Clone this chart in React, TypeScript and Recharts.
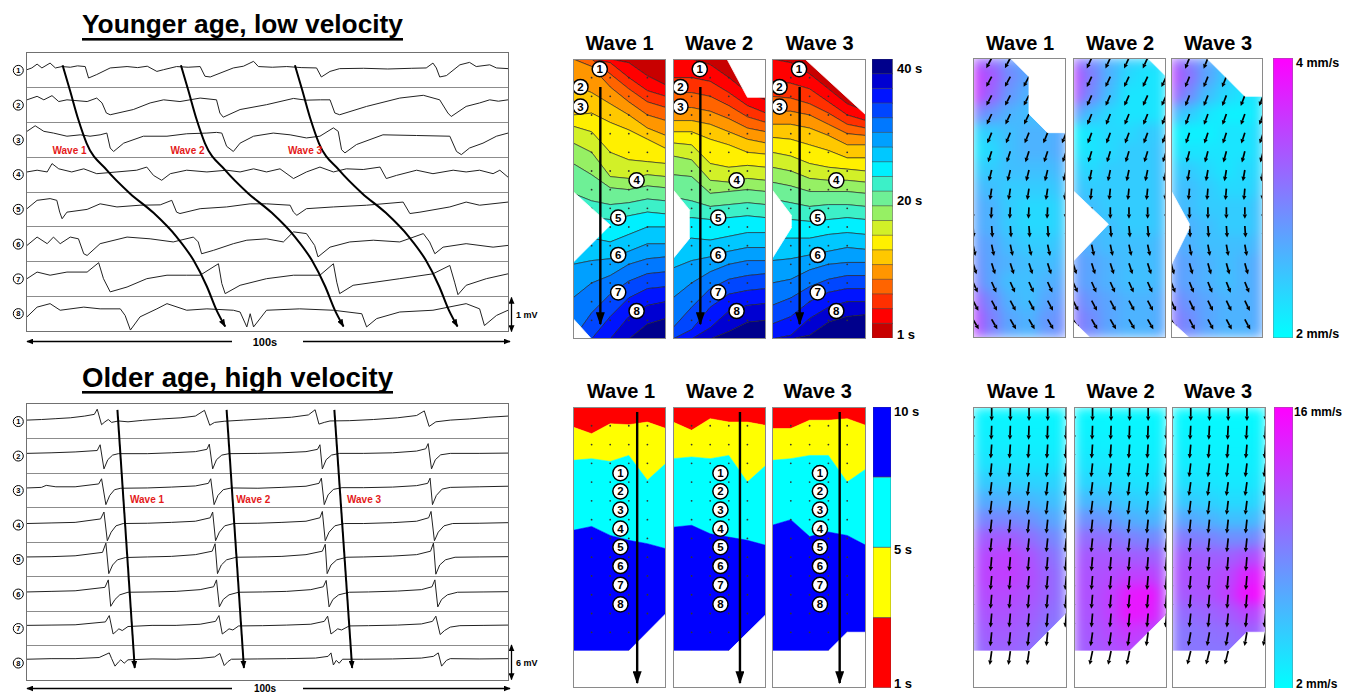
import React from "react";
import {
  LineChart, Line, XAxis, YAxis, AreaChart, Area, ScatterChart, Scatter,
  ComposedChart, BarChart, Bar, Cell,
} from "recharts";

const FONT = "'Liberation Sans', Arial, Helvetica, sans-serif";
const ZERO = { top: 0, right: 0, bottom: 0, left: 0 };
const DEPTH = 15;

// ---------- electrode traces: [time s, mV offset from row centre] ----------
const Y_TR1 = [[0,0.02],[1,0.07],[2.1,0.18],[3.1,0.07],[4.8,0.21],[5.9,0.07],[7.3,0.11],[9,0.09],[10.5,0.13],[12.1,0.11],[12.8,-0.22],[14.5,-0.12],[17.3,0.07],[20.8,0.11],[23,0.08],[25,0.12],[27,-0.03],[28.4,0.02],[31.1,0.11],[33.5,0.09],[36,0.11],[37,-0.17],[38.1,-0.19],[42.9,0.07],[45,0.12],[47.1,0.26],[48.1,0.11],[51,0.09],[54,0.11],[57,0.08],[60.2,0.07],[61.2,-0.19],[63,-0.03],[65,0.05],[70,0.06],[75,0.04],[80,0.06],[83,0.07],[84.4,0.21],[85.1,0.07],[85.8,-0.19],[87.2,-0.15],[90,0.16],[92,0.23],[93.4,0.11],[96.2,0.16],[97.6,0.07],[100,0.05]];
const Y_TR2 = [[0,0.16],[2.1,0.26],[3.5,0.16],[5.2,0.28],[6.6,0.11],[8.3,0.16],[12.5,0.11],[14.5,0.21],[15.6,0.07],[16.5,-0.22],[17.3,-0.27],[22.1,-0.12],[25.6,0.07],[28.4,0.16],[31.8,0.11],[36,0.21],[39.4,0.16],[40.1,-0.22],[40.8,-0.34],[44.3,-0.12],[49.8,0.02],[55.4,0.2],[58,0.15],[61,0.16],[63,0.16],[64,-0.22],[65,-0.27],[70.6,-0.03],[77.5,0.21],[82.4,0.29],[85.8,0.16],[87.5,-0.22],[88.2,-0.32],[91.3,-0.03],[94.1,0.07],[96.2,0.16],[98,0.12],[100,0.16]];
const Y_TR3 = [[0,0.26],[1.7,0.42],[3.5,0.26],[5.5,0.21],[8.3,0.12],[11.1,0.16],[13.1,0.12],[15.2,0.16],[16.6,0.21],[17.3,-0.22],[18,-0.32],[20.1,-0.08],[24.2,0.12],[29.1,0.12],[33.2,0.19],[37.4,0.21],[39.4,0.23],[40.5,0.21],[41.5,-0.17],[42.9,-0.32],[44.3,-0.08],[47.1,0.12],[51.2,0.21],[54.7,0.16],[58.1,0.07],[60.9,0.12],[63.7,0.36],[64.7,0.26],[65.4,-0.27],[66.1,-0.36],[68.5,-0.12],[74,0.16],[81,0.14],[87.9,0.12],[89.3,-0.32],[90.3,-0.41],[92,-0.22],[94.8,-0.08],[97.6,0.12],[100,0.21]];
const Y_TR4 = [[0,0.07],[2.1,0.12],[4.2,0.07],[5.2,0.31],[6.6,0.16],[9.3,0.07],[11.8,0.16],[14.5,0.02],[18.7,0.07],[22.8,0.12],[24.9,0.21],[26.3,-0.03],[28,-0.17],[29.8,0.02],[33.2,0.12],[37.4,0.07],[41.5,0.12],[44.3,0.07],[47.1,0.16],[49.8,0.07],[52.6,0.16],[55.4,-0.12],[58.1,0.07],[60.9,0.21],[63.7,0.07],[66.4,0.16],[69.9,0.14],[73.4,0.21],[74.7,-0.12],[76.8,-0.03],[81,0.12],[84.4,0.02],[88.6,0.12],[91.3,0.07],[94.1,0.12],[96.9,0.02],[98.3,0.12],[100,-0.08]];
const Y_TR5 = [[0,0.02],[2.1,0.26],[4.8,0.31],[6.2,0.26],[6.8,-0.08],[7.3,-0.27],[8.3,-0.08],[12.5,0],[15.2,0.16],[18.7,0.07],[23.5,0.12],[27.7,0.13],[30.1,0.26],[31.1,-0.08],[31.8,-0.12],[36,0.02],[41.5,0.07],[46.4,0.16],[49.8,0.16],[54.7,0.12],[55.4,-0.08],[56.1,-0.17],[58.1,0.02],[63.7,0.07],[70.6,0.12],[78.2,0.21],[79.6,-0.12],[81.7,-0.08],[87.9,0.07],[91.3,0.21],[94.1,0.12],[100,0.21]];
const Y_TR6 = [[0,-0.03],[2.1,0.21],[4.2,0.02],[5.5,0.21],[6.9,0.02],[9,0.21],[10.7,0.16],[11.8,-0.27],[12.5,-0.32],[15.2,0.02],[20.8,0.21],[25.6,0.16],[30.4,0.07],[34.6,0.21],[35.6,0.07],[36.3,-0.27],[38.8,-0.17],[42.9,0.02],[45.7,0.12],[49.8,0.16],[53.3,0.07],[55.4,0.36],[58.1,0.31],[59.8,-0.03],[60.5,-0.36],[63,-0.08],[67.1,0.07],[72,0.12],[77.5,0.07],[82.4,0.31],[83.7,0.07],[84.8,-0.27],[86.5,-0.08],[91.3,0.02],[96.9,-0.08],[100,-0.03]];
const Y_TR7 = [[0,0.02],[2.1,0.21],[4.8,0.12],[8.3,0.21],[12.5,0.21],[14.9,0.48],[15.9,0.02],[17.3,-0.36],[20.8,-0.22],[24.9,0.02],[29.1,0.12],[33.2,0.12],[36,0.12],[39.8,0.45],[40.5,-0.12],[41.2,-0.41],[44.3,-0.17],[49.8,0.02],[55.4,0.12],[60.9,0.12],[63.7,0.45],[64.4,-0.08],[65,-0.41],[67.8,-0.17],[77.5,0.02],[84.4,0.16],[87.9,0.4],[88.9,-0.08],[89.6,-0.44],[91.3,-0.17],[95.5,0.02],[100,0.16]];
const Y_TR8 = [[0,-0.1],[2.1,0.18],[4.8,0.28],[6.9,0.09],[11.8,0.18],[15.2,0.13],[19.4,0.13],[20.4,-0.06],[21.5,-0.48],[23.5,-0.1],[27,0.13],[29.1,0.28],[33.2,0.09],[37.4,0.13],[42.9,0.09],[44.3,0.04],[45.7,-0.39],[46.4,-0.01],[47.1,-0.39],[49.8,0.09],[56.7,0.13],[63.7,0.09],[69.6,-0.01],[70.6,-0.39],[72.7,-0.15],[77.5,0.04],[84.4,0.09],[91.3,0.28],[94.1,0.13],[95.1,-0.35],[97.6,-0.06],[100,0.09]];
const YOUNG_TRACES = [Y_TR1, Y_TR2, Y_TR3, Y_TR4, Y_TR5, Y_TR6, Y_TR7, Y_TR8];

const O_TR1 = [[0,0.2],[3,0.3],[6,0.45],[9,0.6],[12,0.9],[14,1.2],[14.6,2.1],[15.5,-0.6],[16.2,-0.1],[16.9,0.3],[17.6,-0.2],[19,0.05],[21,-0.1],[24,0.15],[28,0.4],[32,0.6],[35,0.9],[36.9,1.9],[38,-0.7],[39,-0.2],[41,0],[45,0.2],[50,0.45],[55,0.7],[58.5,1.1],[59.9,2],[60.7,-0.5],[61.8,-0.2],[63,0.05],[67,0.1],[72,0.3],[77,0.6],[81,1],[82.6,1.8],[83.6,-0.9],[85,-0.1],[88,0.2],[92,0.4],[96,0.7],[100,0.9]];
const O_TR2 = [[0,0.5],[5,0.6],[10,0.75],[14.6,1],[15.2,2],[16,-2.2],[16.8,-0.6],[17.8,0.2],[19,0.45],[25,0.45],[30,0.6],[35,0.8],[37.4,1.2],[37.9,2.1],[38.6,-2.2],[39.4,-0.6],[40.5,0.2],[42,0.45],[48,0.5],[53,0.6],[58,0.8],[60.4,1.2],[60.9,2],[61.4,-2.2],[62.2,-0.6],[63.3,0.2],[65,0.5],[70,0.5],[76,0.6],[81,0.9],[82.9,1.3],[83.4,2.2],[84.1,-2.2],[84.9,-0.6],[86,0.25],[88,0.5],[94,0.5],[100,0.55]];
const O_TR3 = [[0,0.4],[3,0.5],[4,0.85],[6,0.6],[10,0.6],[14.9,1.1],[15.5,2],[16.4,-2.5],[17.2,-0.9],[18.2,0.1],[19.5,0.35],[25,0.4],[30,0.55],[35,0.75],[37.7,1.2],[38.2,2],[38.9,-2.5],[39.7,-0.9],[40.8,0.1],[42.5,0.4],[48,0.35],[53,0.5],[58,0.7],[60.7,1.2],[61.2,2.1],[61.8,-2.5],[62.6,-0.8],[63.7,0.15],[65.5,0.45],[70,0.45],[76,0.55],[81,0.8],[83.3,1.2],[83.8,2.1],[84.3,-2.5],[85.1,-0.9],[86.3,0.2],[88,0.5],[94,0.6],[100,0.7]];
const O_TR4 = [[0,0.3],[5,0.4],[10,0.5],[15.3,1.1],[16,2.3],[16.7,-2.7],[17.5,-1.2],[18.5,-0.1],[20,0.3],[25,0.35],[30,0.5],[35,0.7],[38.1,1.3],[38.6,2.3],[39.2,-2.7],[40,-1.2],[41.1,-0.1],[43,0.3],[48,0.35],[53,0.5],[58,0.7],[60.9,1.3],[61.4,2.4],[62,-2.7],[62.8,-1.2],[64,-0.1],[66,0.3],[70,0.3],[76,0.45],[81,0.7],[83.5,1.3],[84,2.4],[84.7,-2.7],[85.5,-1.2],[86.7,-0.1],[88.5,0.3],[94,0.35],[100,0.45]];
const O_TR5 = [[0,0.4],[5,0.45],[10,0.6],[15.7,1.2],[16.4,2.8],[17,-2.5],[17.8,-1],[18.8,-0.1],[20.5,0.3],[25,0.4],[30,0.5],[35,0.8],[38.5,1.4],[39.1,2.7],[39.6,-2.5],[40.4,-1],[41.5,-0.1],[43.5,0.35],[48,0.4],[53,0.5],[58,0.8],[61.4,1.4],[62,2.6],[62.4,-2.5],[63.2,-1],[64.4,-0.1],[66.5,0.35],[70,0.4],[76,0.55],[81,0.8],[83.9,1.4],[84.5,2.8],[85,-2.6],[85.8,-1],[87,-0.1],[89,0.35],[94,0.4],[100,0.45]];
const O_TR6 = [[0,0.4],[5,0.5],[10,0.6],[16.2,1.2],[16.9,2.5],[17.4,-2.1],[18.3,-0.9],[19.3,-0.1],[21,0.35],[26,0.4],[31,0.5],[36,0.8],[38.8,1.3],[39.4,2.5],[40,-2.2],[40.8,-0.9],[42,-0.1],[44,0.35],[49,0.4],[54,0.5],[59,0.8],[61.6,1.3],[62.2,2.4],[62.8,-2.2],[63.6,-0.9],[64.8,-0.1],[67,0.35],[71,0.4],[77,0.55],[82,0.8],[84.2,1.3],[84.8,2.5],[85.4,-2.2],[86.2,-0.9],[87.4,-0.1],[89.5,0.35],[95,0.4],[100,0.45]];
const O_TR7 = [[0,0.5],[5,0.55],[10,0.6],[16.3,1.1],[17.1,2.2],[17.9,-1],[18.6,-0.5],[19.1,-0.1],[19.8,-0.4],[21,0.3],[26,0.5],[31,0.5],[36,0.7],[39.2,1.2],[39.9,2.2],[40.6,-1],[41.4,-0.5],[42,-0.1],[42.8,-0.3],[44,0.4],[49,0.45],[54,0.55],[59,0.7],[61.8,1.2],[62.5,2.1],[63.2,-1],[64,-0.5],[64.6,-0.1],[65.4,-0.3],[67,0.4],[71,0.45],[77,0.55],[82,0.75],[84.3,1.2],[85,2.1],[85.9,-1.1],[86.8,-0.4],[88,0.2],[90,0.45],[95,0.5],[100,0.55]];
const O_TR8 = [[0,0.7],[5,0.8],[10,0.8],[15,1],[17.1,1.8],[17.6,0.8],[18.3,-0.5],[19,0.2],[19.5,0.6],[20.2,0],[21,0.6],[26,0.75],[31,0.7],[36,0.85],[39,1.1],[40.1,1.7],[41,-0.4],[41.8,0.3],[42.5,0.7],[48,0.75],[54,0.8],[60,0.9],[62.6,1.2],[63.2,1.8],[63.7,-0.3],[64.3,0.5],[64.9,0],[65.6,0.7],[70,0.7],[76,0.75],[82,0.9],[84.5,1.2],[85.5,1.8],[86.2,-0.5],[87.2,0.5],[88,0.8],[94,0.75],[100,0.8]];
const OLD_TRACES = [O_TR1, O_TR2, O_TR3, O_TR4, O_TR5, O_TR6, O_TR7, O_TR8];

// wave propagation arrows: [time s, row position]
const Y_WAVE1 = [[7.4,0.35],[8.9,1.06],[10.7,1.93],[12.4,2.6],[16.6,3.37],[21.4,4.04],[26.3,4.6],[31.1,5.29],[34.6,5.96],[37.4,6.72],[39.4,7.4],[41.2,7.87]];
const Y_WAVE2 = [[32,0.35],[33.5,1.06],[35.3,1.93],[37,2.6],[41.2,3.37],[46,4.04],[50.9,4.6],[55.7,5.29],[59.2,5.96],[62,6.72],[64,7.4],[65.8,7.87]];
const Y_WAVE3 = [[55.7,0.35],[57.2,1.06],[59,1.93],[60.7,2.6],[64.9,3.37],[69.7,4.04],[74.6,4.6],[79.4,5.29],[82.9,5.96],[85.7,6.72],[87.7,7.4],[89.5,7.87]];
const O_WAVE1 = [[18.8,0.17],[22.4,7.65]];
const O_WAVE2 = [[41.5,0.17],[45.1,7.65]];
const O_WAVE3 = [[63.9,0.17],[67.6,7.65]];

// ---------- maps: node grid ----------
const GRID_X = [0, 1, 2, 3, 4, 5];
const GRID_Y = [0, 1, 2, 3, 4, 5, 6, 7, 8, 9, 10, 11, 12, 13, 14, 15];

// activation time contour boundaries (depth in node rows, per column)
const YA1_BOUNDS = [
  [0,0,0,0.2,0.9,1.4],[0,0,0.2,1,1.7,2],[0,0,0.8,1.6,2.3,2.6],[0,0.4,1.5,2.3,3,3.3],
  [1.4,1.8,2.4,3,3.7,4.1],[3,2.9,3.4,3.8,4.3,4.8],[3.6,3.9,5,5.4,5.5,5.6],[4.5,5,6.3,6.4,6.2,6.3],
  [5.6,6.2,6.9,7,6.8,6.9],[7.2,7.6,7.8,7.7,7.5,7.6],[8.4,8.5,8.6,8.4,8.2,8.3],[9.6,9.6,9.8,9.4,9,9],
  [11,10.8,10.7,10.3,9.9,9.9],[12.8,12,11.6,11,10.7,10.6],[15,13.6,12.6,11.9,11.5,11.4],[15,15,13.8,12.8,12.3,12.2],
  [15,15,15,13.8,13.2,13],[15,15,15,15,14.2,13.9],
];
const YA2_BOUNDS = [
  [0,0,0.3,1,1.8,2.2],[1,1,1.2,1.8,2.5,2.9],[1.8,1.8,2,2.5,3.1,3.4],[2.6,2.6,2.8,3.2,3.7,3.9],
  [3.3,3.3,3.5,3.9,4.3,4.5],[3.9,3.9,4.3,4.6,5,5.1],[4.5,4.6,5.6,5.8,5.7,5.8],[5.2,5.4,6.5,6.6,6.4,6.5],
  [6.2,6.3,7.2,7.1,7,7.1],[7.4,7.6,7.9,7.8,7.7,7.8],[8.6,8.5,8.6,8.5,8.4,8.5],[9.8,9.6,9.7,9.5,9.3,9.3],
  [11.2,10.8,10.6,10.3,10.1,10.1],[12.8,12,11.4,11,10.8,10.8],[14.4,13.3,12.3,11.8,11.6,11.5],[15,14.5,13.3,12.6,12.4,12.3],
  [15,15,14.4,13.5,13.2,13.1],[15,15,15,14.6,14.1,14],
];
const YA3_BOUNDS = [
  [0,0.2,0.8,1.6,2.4,2.8],[1.2,1.3,1.6,2.3,3,3.3],[2,2.1,2.4,2.9,3.5,3.7],[2.8,2.8,3,3.5,4,4.1],
  [3.5,3.5,3.7,4.1,4.6,4.6],[4.2,4.3,4.6,4.9,5.3,5.3],[5,5.2,5.6,5.8,5.9,6],[5.8,6,6.4,6.5,6.5,6.6],
  [6.6,6.8,7.1,7.1,7.1,7.2],[7.5,7.7,7.9,7.8,7.8,7.9],[8.5,8.6,8.7,8.6,8.5,8.6],[9.6,9.6,9.6,9.4,9.3,9.4],
  [10.8,10.7,10.5,10.3,10.1,10.2],[12,11.8,11.3,11,10.9,10.9],[13.2,12.8,12.2,11.8,11.6,11.6],[14.2,13.8,13,12.5,12.3,12.3],
  [15,14.8,13.9,13.3,13,13],[15,15,14.8,14.1,13.8,13.7],
];
const OA1_BOUNDS = [[1.07,1.42,0.89,0.94,0.8,1.15],[2.84,2.75,2.9,2.58,3.9,3],[6.57,6.36,6.84,7.1,7.28,7.55]];
const OA2_BOUNDS = [[0.8,1.24,0.62,0.8,0.8,0.98],[2.75,2.66,2.75,2.58,4,3.1],[6.4,6.3,6.75,6.93,7.1,7.37]];
const OA3_BOUNDS = [[1.15,1.15,0.7,0.7,0.62,0.98],[2.84,2.75,2.58,2.58,4,3.3],[6.3,6,6.9,6.66,6.84,7.37]];

// white (no data) regions: [x, depth from, depth to]
const YA1_MASKS = [[[0,7.1,10.9],[2,8.9,8.9]], [[0,13.9,15],[1,15,15]]];
const YA2_MASKS = [[[2.9,0,0],[4,0,2.05],[5,0,2.05]], [[0,7,10.7],[0.9,8.1,9.6]]];
const YA3_MASKS = [[[1.75,0,0],[5,0,3]], [[0,7,10.7],[1.05,8.4,9]]];
const O1_MASKS = [[[0,13,15],[3,13,15],[5,11,15]]];
const O2_MASKS = [[[0,13,15],[3,13,15],[5,11.05,15]]];
const O3_MASKS = [[[0,13,15],[3,13,15],[4,12,15],[5,12,15]]];
const YV1_MASKS = [[[2,0,0],[3,0,1],[3,0,3],[4,0,4],[5,0,4]]];
const YV2_MASKS = [[[4,0,0],[5,0,1]], [[0,7.1,10.9],[1.9,8.9,8.9]], [[0,14.1,15],[0.93,15,15]]];
const YV3_MASKS = [[[1.93,0,0],[4,0,2.05],[5,0,2.05]], [[0,7.1,11.1],[1,8.9,9.1]], [[0,14.1,15],[1,15,15]]];

// electrodes [x, depth, number] and propagation arrows
const YOUNG_ELECS = [[1.44,0.54,1],[0.4,1.5,2],[0.4,2.55,3],[3.42,6.5,4],[2.43,8.5,5],[2.43,10.5,6],[2.43,12.5,7],[3.42,13.5,8]];
const OLD_ELECS = [[2.55,3.52,1],[2.55,4.49,2],[2.55,5.47,3],[2.55,6.48,4],[2.55,7.46,5],[2.55,8.47,6],[2.55,9.47,7],[2.55,10.51,8]];
const YA_ARROW = [[1.47,1.5],[1.47,14.2]];
const OA1_ARROW = [[3.45,0.27],[3.45,14.7]];
const OA23_ARROW = [[3.6,0.27],[3.6,14.7]];

// conduction velocity (mm/s) per node, rows x columns
const YV1_SPEED = [
  [3.3,3.1,2.8,2.6,2.6,2.6],[3.6,3.3,2.9,2.7,2.6,2.6],[3.6,3.2,2.8,2.6,2.6,2.6],[3,2.8,2.6,2.5,2.5,2.5],
  [2.3,2.4,2.5,2.6,2.6,2.7],[2.2,2.3,2.5,2.6,2.6,2.7],[2.4,2.4,2.5,2.5,2.5,2.6],[2.6,2.5,2.4,2.4,2.4,2.5],
  [2.7,2.6,2.4,2.3,2.3,2.4],[2.7,2.6,2.4,2.3,2.3,2.4],[2.8,2.7,2.5,2.4,2.4,2.5],[2.9,2.7,2.6,2.5,2.5,2.6],
  [3,2.7,2.5,2.5,2.6,2.7],[3.3,2.9,2.6,2.5,2.7,2.8],[3.5,3,2.7,2.6,2.8,2.9],[3.5,3,2.7,2.6,2.8,2.9],
];
const YV2_SPEED = [
  [3.2,2.9,2.6,2.4,2.3,2.3],[3.5,3,2.6,2.3,2.2,2.2],[3.4,2.9,2.5,2.2,2.2,2.2],[2.8,2.5,2.3,2.2,2.2,2.2],
  [2.1,2.2,2.3,2.3,2.4,2.4],[2.2,2.2,2.3,2.4,2.4,2.5],[2.4,2.3,2.4,2.4,2.4,2.5],[2.5,2.4,2.4,2.4,2.4,2.5],
  [2.6,2.5,2.4,2.4,2.4,2.5],[2.6,2.5,2.5,2.4,2.4,2.5],[2.7,2.6,2.5,2.5,2.5,2.6],[2.8,2.7,2.6,2.5,2.5,2.6],
  [2.8,2.7,2.6,2.5,2.5,2.6],[3,2.8,2.7,2.6,2.6,2.7],[3.1,2.9,2.7,2.6,2.6,2.7],[3.1,2.9,2.7,2.6,2.6,2.7],
];
const YV3_SPEED = [
  [3.3,3,2.7,2.5,2.4,2.4],[3.5,3.1,2.7,2.4,2.3,2.3],[3.3,2.9,2.5,2.3,2.2,2.2],[2.6,2.4,2.2,2.1,2.1,2.2],
  [2.1,2.1,2.1,2.2,2.2,2.3],[2.2,2.2,2.2,2.2,2.2,2.3],[2.4,2.4,2.3,2.2,2.3,2.3],[2.5,2.5,2.4,2.3,2.3,2.4],
  [2.6,2.5,2.4,2.4,2.4,2.5],[2.7,2.6,2.5,2.4,2.4,2.5],[2.7,2.6,2.5,2.5,2.5,2.6],[2.8,2.7,2.6,2.5,2.6,2.7],
  [2.8,2.7,2.6,2.5,2.6,2.7],[3,2.8,2.7,2.6,2.6,2.7],[3.1,2.9,2.7,2.6,2.6,2.7],[3.1,2.9,2.7,2.6,2.6,2.7],
];
const OV1_SPEED = [
  [2.5,2.5,2.5,2.5,2.5,2.5],[2.8,2.7,2.6,2.6,2.6,2.7],[3,3,2.9,2.8,2.8,2.9],[3.6,3.5,3.4,3.3,3.3,3.4],
  [4.8,4.8,4.6,4.4,4.3,4.3],[6.5,6.5,6.3,6,5.5,5.2],[8.5,8.6,8.5,8,7,6.5],[10.5,11,11,10,8.8,8],
  [11.5,12.2,12.5,11.5,10,9],[11.8,12.5,12.6,11.8,10.5,9.5],[11.5,12,12,11.5,10.5,9.5],[11,11.5,11.5,11,10,9.5],
  [10.5,11,11,10.5,9.5,9],[10,10.5,10.5,10,9,8.5],[10,10.5,10.5,10,9,8.5],[10,10.5,10.5,10,9,8.5],
];
const OV2_SPEED = [
  [2.4,2.4,2.4,2.4,2.4,2.4],[2.6,2.6,2.5,2.5,2.5,2.6],[2.9,2.9,2.8,2.7,2.7,2.8],[3.3,3.3,3.2,3,3,3.2],
  [4.2,4.2,4,3.6,3.5,3.8],[5.8,5.8,5.5,4.8,4.5,4.8],[8,8,7.5,6.5,6,6.2],[10,10,9.8,9,8.5,8.5],
  [11,11.2,11.2,11,10.8,10.5],[11.5,11.5,11.8,12.5,12.5,11.5],[11.5,11.6,12.5,14.5,15,12.5],[11.2,11.5,12.5,14.8,14.5,12.5],
  [11,11.2,12,13,12.5,11.5],[10.8,11,11.5,12,11.5,11],[10.8,11,11.5,12,11.5,11],[10.8,11,11.5,12,11.5,11],
];
const OV3_SPEED = [
  [2.3,2.3,2.3,2.3,2.3,2.3],[2.5,2.5,2.4,2.4,2.4,2.5],[2.8,2.7,2.6,2.6,2.6,2.7],[3.1,3,2.9,2.8,2.8,2.9],
  [3.8,3.6,3.4,3.2,3.2,3.4],[5,4.8,4.4,4,4,4.3],[7,6.8,6.2,5.5,5.5,6],[9.5,9.2,8.8,8.2,8.2,8.8],
  [11,11,10.8,10.8,11.5,12],[11.5,11.5,11.5,12,14,14.5],[11,11.2,11.5,12.5,15,15.5],[10,10.2,10.5,11,12,12],
  [9.5,9.5,9.8,10,10.5,10.5],[9.5,9.5,9.5,9.5,10,10],[9.5,9.5,9.5,9.5,10,10],[9.5,9.5,9.5,9.5,10,10],
];
// arrow direction per node row, degrees from straight down (+ = toward right)
const YV1_ANGLE = [-28,-28,-27,-25,-22,-18,-14,-9,-3,4,12,18,24,28,30,30];
const YV2_ANGLE = [-25,-25,-24,-22,-20,-17,-12,-6,0,5,12,18,24,28,30,30];
const YV3_ANGLE = [-22,-22,-21,-20,-18,-15,-10,-5,0,4,10,16,22,26,28,28];
const OV1_ANGLE = [0,-2,-4,-6,-7,-7,-6,-6,-5,-5,-5,-5,-6,-8,-8,-8];
const OV2_ANGLE = [0,-2,-4,-6,-7,-7,-6,-6,-5,-5,-5,-5,-8,-12,-12,-12];
const OV3_ANGLE = [0,-3,-5,-7,-8,-7,-6,-6,-5,-5,-5,-6,-10,-14,-14,-14];
const OV1_LAST = [13,13,13,13,12,11];
const OV2_LAST = [13,13,13,13,12,11];
const OV3_LAST = [13,13,13,13,12,12];

// colour scales
const JET_LEVELS = ["1","3","5","7","9","11","13","15","17","19","21","23","25","27","29","31","33","35","37"];
const JET_COLORS = ["#c80000","#ff0000","#ff3000","#ff6400","#ff9600","#ffc800","#fff000","#d2f028","#96f064","#6ef096","#3cf0c8","#00f0ff","#00c8ff","#00a0ff","#0078ff","#0046ff","#0014ff","#0000d2","#00008c"];
const STEP_LEVELS = ["1","5","8","10"];
const STEP_COLORS = ["#ff0000", "#ffff00", "#00ffff", "#0000ff"];
const YV_TICKS = [2.22, 2.44, 2.67, 2.89, 3.11, 3.33, 3.56, 3.78];
const OV_TICKS = [3.56, 5.11, 6.67, 8.22, 9.78, 11.33, 12.89, 14.44];

const cool = (s: number, lo: number, hi: number) => {
  const t = Math.max(0, Math.min(1, (s - lo) / (hi - lo)));
  return `rgb(${Math.round(255 * t)},${Math.round(255 * (1 - t))},255)`;
};

const Layer = ({ children }: any) => (
  <div style={{ position: "absolute", left: 0, top: 0 }}>{children}</div>
);

const mapAxes = (withY: boolean) => [
  <XAxis key="x" type="number" dataKey="x" domain={[0, 5]} hide allowDataOverflow />,
  <YAxis key="y" type="number" dataKey={withY ? "y" : undefined} domain={[0, DEPTH]} reversed hide allowDataOverflow />,
];

function TracePanel({ left, top, width, height, traces, vmax, waves }: any) {
  const rowH = height / traces.length;
  return (
    <div style={{ position: "absolute", left, top, width, height }}>
      {traces.map((tr: number[][], i: number) => (
        <div key={i} style={{ position: "absolute", left: 0, top: i * rowH }}>
          <LineChart width={width} height={rowH} data={tr.map(([t, v]) => ({ t, v }))} margin={ZERO}>
            <XAxis type="number" dataKey="t" domain={[0, 100]} hide allowDataOverflow />
            <YAxis type="number" domain={[-vmax, vmax]} hide allowDataOverflow />
            <Line dataKey="v" type="linear" stroke="#222" strokeWidth={1} dot={false} activeDot={false} isAnimationActive={false} />
          </LineChart>
        </div>
      ))}
      {traces.slice(1).map((_: any, i: number) => (
        <div key={"s" + i} style={{ position: "absolute", left: 0, top: (i + 1) * rowH - 0.5, width, height: 1, background: "#8c8c8c" }} />
      ))}
      <div style={{ position: "absolute", left: -1, top: -1, width: width + 2, height: height + 2, border: "1px solid #707070", boxSizing: "border-box" }} />
      {waves.map((p: number[][], i: number) => (
        <Layer key={"w" + i}>
          <LineChart width={width} height={height} data={p.map(([t, r]) => ({ t, r }))} margin={ZERO}>
            <XAxis type="number" dataKey="t" domain={[0, 100]} hide allowDataOverflow />
            <YAxis type="number" domain={[0, traces.length]} reversed hide allowDataOverflow />
            <Line dataKey="r" type="monotone" stroke="#000" strokeWidth={2} dot={false} activeDot={false} isAnimationActive={false} markerEnd="url(#ahTrace)" />
          </LineChart>
        </Layer>
      ))}
    </div>
  );
}

function MaskLayer({ pts, w, h }: any) {
  return (
    <Layer>
      <AreaChart width={w} height={h} data={pts.map(([x, lo, hi]: number[]) => ({ x, r: [lo, hi] }))} margin={ZERO}>
        {mapAxes(false)}
        <Area dataKey="r" type="linear" fill="#fff" fillOpacity={1} stroke="#fff" strokeWidth={0.8} dot={false} activeDot={false} isAnimationActive={false} />
      </AreaChart>
    </Layer>
  );
}

const NODES = GRID_Y.flatMap((y) => GRID_X.map((x) => ({ x, y })));

const Electrode = (p: any) => (
  <g>
    <circle cx={p.cx} cy={p.cy} r={7.6} fill="#fff" stroke="#000" strokeWidth={1.5} />
    <text x={p.cx} y={p.cy} dy="0.36em" textAnchor="middle" fontSize={11.5} fontWeight="bold" fontFamily={FONT}>{p.payload.n}</text>
  </g>
);

function ActivationPanel({ left, top, w, h, bounds, colors, contour, masks, arrow, elecs }: any) {
  const bandData = GRID_X.map((x, ci) => {
    const row: any = { x };
    colors.forEach((_: string, b: number) => {
      const lo = b === 0 ? 0 : bounds[b - 1][ci];
      const hi = b === bounds.length ? DEPTH : bounds[b][ci];
      row["b" + b] = [lo, hi];
    });
    return row;
  });
  return (
    <div style={{ position: "absolute", left, top, width: w, height: h, overflow: "hidden" }}>
      <Layer>
        <AreaChart width={w} height={h} data={bandData} margin={ZERO}>
          {mapAxes(false)}
          {colors.map((c: string, b: number) => (
            <Area key={b} dataKey={"b" + b} type="linear" fill={c} fillOpacity={1}
              stroke={contour ? "#222" : c} strokeWidth={contour ? 0.6 : 0.5}
              dot={false} activeDot={false} isAnimationActive={false} />
          ))}
        </AreaChart>
      </Layer>
      <Layer>
        <ScatterChart width={w} height={h} margin={ZERO}>
          {mapAxes(true)}
          <Scatter data={NODES} isAnimationActive={false} shape={(p: any) => <circle cx={p.cx} cy={p.cy} r={0.9} fill="#333" />} />
        </ScatterChart>
      </Layer>
      {masks.map((m: number[][], i: number) => <MaskLayer key={i} pts={m} w={w} h={h} />)}
      <Layer>
        <ComposedChart width={w} height={h} data={arrow.map(([x, y]: number[]) => ({ x, y }))} margin={ZERO}>
          {mapAxes(true)}
          <Line dataKey="y" type="linear" stroke="#000" strokeWidth={2.4} dot={false} activeDot={false} isAnimationActive={false} markerEnd="url(#ahMap)" />
          <Scatter data={elecs.map(([x, y, n]: number[]) => ({ x, y, n }))} isAnimationActive={false} shape={Electrode} />
        </ComposedChart>
      </Layer>
      <div style={{ position: "absolute", left: 0, top: 0, width: w, height: h, border: "1px solid #8a8a8a", boxSizing: "border-box" }} />
    </div>
  );
}

const makeArrow = (len: number) => (p: any) => {
  const a = (p.payload.a * Math.PI) / 180;
  const ux = Math.sin(a), uy = Math.cos(a);
  const x2 = p.cx + len * ux, y2 = p.cy + len * uy;
  const hl = 4.4, hw = 2.2;
  const bx = x2 - hl * ux, by = y2 - hl * uy;
  return (
    <g>
      <line x1={p.cx} y1={p.cy} x2={bx} y2={by} stroke="#000" strokeWidth={1.7} />
      <polygon points={`${x2},${y2} ${bx - hw * uy},${by + hw * ux} ${bx + hw * uy},${by - hw * ux}`} fill="#000" />
    </g>
  );
};

// speed field is drawn as node cells, then softened so it reads as a continuous field
const PAD = 14;
function SpeedLayer({ w, h, speeds, lo, hi }: any) {
  const cw = w / 5, ch = h / DEPTH;
  const cells = NODES.map((n) => ({ ...n, s: speeds[n.y][n.x] }));
  const cellShape = (p: any) => {
    const { x, y, s } = p.payload;
    const l = x === 0 ? PAD : 0, r = x === 5 ? PAD : 0;
    const t = y === 0 ? PAD : 0, b = y === 15 ? PAD : 0;
    return (
      <rect x={p.cx - cw / 2 - 0.4 - l} y={p.cy - ch / 2 - 0.4 - t}
        width={cw + 0.8 + l + r} height={ch + 0.8 + t + b} fill={cool(s, lo, hi)} />
    );
  };
  return (
    <div style={{ position: "absolute", left: -PAD, top: -PAD, filter: "blur(6px)" }}>
      <ScatterChart width={w + 2 * PAD} height={h + 2 * PAD} margin={{ top: PAD, right: PAD, bottom: PAD, left: PAD }}>
        {mapAxes(true)}
        <Scatter data={cells} isAnimationActive={false} shape={cellShape} />
      </ScatterChart>
    </div>
  );
}

function VelocityPanel({ left, top, w, h, speeds, lo, hi, angles, last, len, masks }: any) {
  const arrows = NODES.filter((n) => n.y <= (last ? last[n.x] : 14)).map((n) => ({ ...n, a: angles[n.y] }));
  const arrowLayer = (
    <Layer key="arr">
      <ScatterChart width={w} height={h} margin={ZERO}>
        {mapAxes(true)}
        <Scatter data={arrows} isAnimationActive={false} shape={makeArrow(len)} />
      </ScatterChart>
    </Layer>
  );
  return (
    <div style={{ position: "absolute", left, top, width: w, height: h, overflow: "hidden" }}>
      <SpeedLayer w={w} h={h} speeds={speeds} lo={lo} hi={hi} />
      {!last && arrowLayer}
      {masks.map((m: number[][], i: number) => <MaskLayer key={i} pts={m} w={w} h={h} />)}
      {last && arrowLayer}
      <div style={{ position: "absolute", left: 0, top: 0, width: w, height: h, border: "1px solid #8a8a8a", boxSizing: "border-box" }} />
    </div>
  );
}

function StepBar({ left, top, w, h, levels, colors }: any) {
  const data = levels.map((l: string, i: number) => ({ l, v: 1, c: colors[i] })).reverse();
  return (
    <div style={{ position: "absolute", left, top }}>
      <BarChart layout="vertical" width={w} height={h} data={data} margin={ZERO} barCategoryGap={0} barGap={0}>
        <XAxis type="number" domain={[0, 1]} hide />
        <YAxis type="category" dataKey="l" hide />
        <Bar dataKey="v" stroke="#444" strokeWidth={0.5} isAnimationActive={false}>
          {data.map((d: any) => <Cell key={d.l} fill={d.c} />)}
        </Bar>
      </BarChart>
    </div>
  );
}

function GradientBar({ left, top, w, h, lo, hi, ticks }: any) {
  return (
    <div style={{ position: "absolute", left, top }}>
      <BarChart width={w} height={h} data={[{ k: "cb", v: [lo, hi] }]} margin={ZERO} barCategoryGap={0} barGap={0}>
        <XAxis dataKey="k" type="category" hide />
        <YAxis type="number" domain={[lo, hi]} orientation="right" mirror width={0} ticks={ticks} interval={0}
          tickSize={5} tickFormatter={() => ""} axisLine={false} tickLine={{ stroke: "#666" }} />
        <Bar dataKey="v" fill="url(#coolGrad)" stroke="#777" strokeWidth={0.8} isAnimationActive={false} />
      </BarChart>
    </div>
  );
}

const T = (props: any) => <text fontFamily={FONT} fontWeight="bold" {...props} />;

function Circled({ x, y, n }: any) {
  return (
    <g>
      <circle cx={x} cy={y} r={5} fill="#fff" stroke="#000" strokeWidth={1} />
      <text x={x} y={y} dy="0.35em" textAnchor="middle" fontSize={7.5} fontWeight="bold" fontFamily={FONT}>{n}</text>
    </g>
  );
}

export default function App() {
  const yRow = 278 / 8, oRow = 276 / 8;
  const MID_X = [573, 673, 772];
  const RIGHT_TOP_X = [972.7, 1072.7, 1171];
  const RIGHT_BOT_X = [973.3, 1074, 1172.3];
  return (
    <div style={{ position: "absolute", left: 0, top: 0, width: 1345, height: 693, background: "#fff", overflow: "hidden", fontFamily: FONT }}>
      <svg width={0} height={0} style={{ position: "absolute" }}>
        <defs>
          <marker id="ahTrace" viewBox="0 0 10 10" refX="9" refY="5" markerWidth="8" markerHeight="6" orient="auto" markerUnits="userSpaceOnUse" preserveAspectRatio="none">
            <path d="M0,0 L10,5 L0,10 z" fill="#000" />
          </marker>
          <marker id="ahMap" viewBox="0 0 10 10" refX="9" refY="5" markerWidth="13" markerHeight="9" orient="auto" markerUnits="userSpaceOnUse" preserveAspectRatio="none">
            <path d="M0,0 L10,5 L0,10 z" fill="#000" />
          </marker>
          <marker id="ahSmall" viewBox="0 0 10 10" refX="9" refY="5" markerWidth="7" markerHeight="6" orient="auto" markerUnits="userSpaceOnUse" preserveAspectRatio="none">
            <path d="M0,0 L10,5 L0,10 z" fill="#000" />
          </marker>
          <linearGradient id="coolGrad" x1="0" y1="0" x2="0" y2="1">
            <stop offset="0%" stopColor="#ff00ff" />
            <stop offset="100%" stopColor="#00ffff" />
          </linearGradient>
        </defs>
      </svg>

      <TracePanel left={27} top={53} width={481} height={278} traces={YOUNG_TRACES} vmax={0.5} waves={[Y_WAVE1, Y_WAVE2, Y_WAVE3]} />
      <TracePanel left={27} top={404.3} width={481} height={276} traces={OLD_TRACES} vmax={3} waves={[O_WAVE1, O_WAVE2, O_WAVE3]} />

      <ActivationPanel left={MID_X[0]} top={58.5} w={93} h={280} bounds={YA1_BOUNDS} colors={JET_COLORS} contour masks={YA1_MASKS} arrow={YA_ARROW} elecs={YOUNG_ELECS} />
      <ActivationPanel left={MID_X[1]} top={58.5} w={93} h={280} bounds={YA2_BOUNDS} colors={JET_COLORS} contour masks={YA2_MASKS} arrow={YA_ARROW} elecs={YOUNG_ELECS} />
      <ActivationPanel left={MID_X[2]} top={58.5} w={94} h={280} bounds={YA3_BOUNDS} colors={JET_COLORS} contour masks={YA3_MASKS} arrow={YA_ARROW} elecs={YOUNG_ELECS} />
      <ActivationPanel left={MID_X[0]} top={406.7} w={93} h={281.6} bounds={OA1_BOUNDS} colors={STEP_COLORS} contour={false} masks={O1_MASKS} arrow={OA1_ARROW} elecs={OLD_ELECS} />
      <ActivationPanel left={MID_X[1]} top={406.7} w={93} h={281.6} bounds={OA2_BOUNDS} colors={STEP_COLORS} contour={false} masks={O2_MASKS} arrow={OA23_ARROW} elecs={OLD_ELECS} />
      <ActivationPanel left={MID_X[2]} top={406.7} w={94} h={281.6} bounds={OA3_BOUNDS} colors={STEP_COLORS} contour={false} masks={O3_MASKS} arrow={OA23_ARROW} elecs={OLD_ELECS} />

      <VelocityPanel left={RIGHT_TOP_X[0]} top={58.3} w={93.3} h={280} speeds={YV1_SPEED} lo={2} hi={4} angles={YV1_ANGLE} len={11.5} masks={YV1_MASKS} />
      <VelocityPanel left={RIGHT_TOP_X[1]} top={58.3} w={93.3} h={280} speeds={YV2_SPEED} lo={2} hi={4} angles={YV2_ANGLE} len={11.5} masks={YV2_MASKS} />
      <VelocityPanel left={RIGHT_TOP_X[2]} top={58.3} w={92.3} h={280} speeds={YV3_SPEED} lo={2} hi={4} angles={YV3_ANGLE} len={11.5} masks={YV3_MASKS} />
      <VelocityPanel left={RIGHT_BOT_X[0]} top={406.7} w={93.4} h={281.6} speeds={OV1_SPEED} lo={2} hi={16} angles={OV1_ANGLE} last={OV1_LAST} len={14} masks={O1_MASKS} />
      <VelocityPanel left={RIGHT_BOT_X[1]} top={406.7} w={92.7} h={281.6} speeds={OV2_SPEED} lo={2} hi={16} angles={OV2_ANGLE} last={OV2_LAST} len={14} masks={O2_MASKS} />
      <VelocityPanel left={RIGHT_BOT_X[2]} top={406.7} w={93.7} h={281.6} speeds={OV3_SPEED} lo={2} hi={16} angles={OV3_ANGLE} last={OV3_LAST} len={14} masks={O3_MASKS} />

      <StepBar left={872} top={59} w={20.5} h={279} levels={JET_LEVELS} colors={JET_COLORS} />
      <StepBar left={873} top={407} w={18} h={281} levels={STEP_LEVELS} colors={STEP_COLORS} />
      <GradientBar left={1273} top={58.3} w={20} h={280} lo={2} hi={4} ticks={YV_TICKS} />
      <GradientBar left={1274} top={406.7} w={19} h={281.6} lo={2} hi={16} ticks={OV_TICKS} />

      <svg width={1345} height={693} style={{ position: "absolute", left: 0, top: 0, pointerEvents: "none" }}>
        <T x={82} y={32.5} fontSize={26} textLength={321} lengthAdjust="spacingAndGlyphs">Younger age, low velocity</T>
        <rect x={82} y={38} width={321} height={2.6} fill="#000" />
        <T x={82} y={386.5} fontSize={27} textLength={311} lengthAdjust="spacingAndGlyphs">Older age, high velocity</T>
        <rect x={82} y={391} width={311} height={2.6} fill="#000" />

        {YOUNG_TRACES.map((_, i) => <Circled key={"yc" + i} x={18.3} y={53 + yRow * (i + 0.5)} n={i + 1} />)}
        {OLD_TRACES.map((_, i) => <Circled key={"oc" + i} x={18.3} y={404.3 + oRow * (i + 0.5)} n={i + 1} />)}

        <T x={69.5} y={154} fontSize={10} fill="#e41a1a" textAnchor="middle">Wave 1</T>
        <T x={187.5} y={154} fontSize={10} fill="#e41a1a" textAnchor="middle">Wave 2</T>
        <T x={305} y={154} fontSize={10} fill="#e41a1a" textAnchor="middle">Wave 3</T>
        <T x={147} y={503.3} fontSize={10} fill="#e41a1a" textAnchor="middle">Wave 1</T>
        <T x={253.3} y={503.3} fontSize={10} fill="#e41a1a" textAnchor="middle">Wave 2</T>
        <T x={364} y={503.3} fontSize={10} fill="#e41a1a" textAnchor="middle">Wave 3</T>

        <line x1={511.5} y1={314} x2={511.5} y2={297.5} stroke="#000" strokeWidth={1.3} markerEnd="url(#ahSmall)" />
        <line x1={511.5} y1={314} x2={511.5} y2={331.5} stroke="#000" strokeWidth={1.3} markerEnd="url(#ahSmall)" />
        <T x={516} y={317.5} fontSize={9}>1 mV</T>
        <line x1={511.5} y1={662} x2={511.5} y2={645} stroke="#000" strokeWidth={1.3} markerEnd="url(#ahSmall)" />
        <line x1={511.5} y1={662} x2={511.5} y2={679.5} stroke="#000" strokeWidth={1.3} markerEnd="url(#ahSmall)" />
        <T x={516} y={666} fontSize={9}>6 mV</T>

        <line x1={232} y1={341.5} x2={27} y2={341.5} stroke="#000" strokeWidth={1.6} markerEnd="url(#ahSmall)" />
        <line x1={303} y1={341.5} x2={510} y2={341.5} stroke="#000" strokeWidth={1.6} markerEnd="url(#ahSmall)" />
        <T x={265} y={345.5} fontSize={11} textAnchor="middle">100s</T>
        <line x1={232} y1={688.5} x2={27} y2={688.5} stroke="#000" strokeWidth={1.6} markerEnd="url(#ahSmall)" />
        <line x1={303} y1={688.5} x2={510} y2={688.5} stroke="#000" strokeWidth={1.6} markerEnd="url(#ahSmall)" />
        <T x={265} y={692} fontSize={10} textAnchor="middle">100s</T>

        {[619.5, 719, 819.5].map((x, i) => <T key={"mt" + i} x={x} y={50} fontSize={20} textAnchor="middle">{`Wave ${i + 1}`}</T>)}
        {[1020, 1120, 1218].map((x, i) => <T key={"rt" + i} x={x} y={50} fontSize={20} textAnchor="middle">{`Wave ${i + 1}`}</T>)}
        {[621, 720, 817.7].map((x, i) => <T key={"mb" + i} x={x} y={397.7} fontSize={20} textAnchor="middle">{`Wave ${i + 1}`}</T>)}
        {[1021, 1120.5, 1218].map((x, i) => <T key={"rb" + i} x={x} y={397.7} fontSize={20} textAnchor="middle">{`Wave ${i + 1}`}</T>)}

        <T x={897} y={72.5} fontSize={13}>40 s</T>
        <T x={897} y={205} fontSize={13}>20 s</T>
        <T x={897} y={338.5} fontSize={13}>1 s</T>
        <T x={894} y={416} fontSize={13}>10 s</T>
        <T x={894} y={554} fontSize={13}>5 s</T>
        <T x={894} y={688} fontSize={13}>1 s</T>
        <T x={1296} y={67} fontSize={12.5}>4 mm/s</T>
        <T x={1296} y={338} fontSize={12.5}>2 mm/s</T>
        <T x={1294} y={415.5} fontSize={12}>16 mm/s</T>
        <T x={1296} y={688} fontSize={12}>2 mm/s</T>
      </svg>
    </div>
  );
}
